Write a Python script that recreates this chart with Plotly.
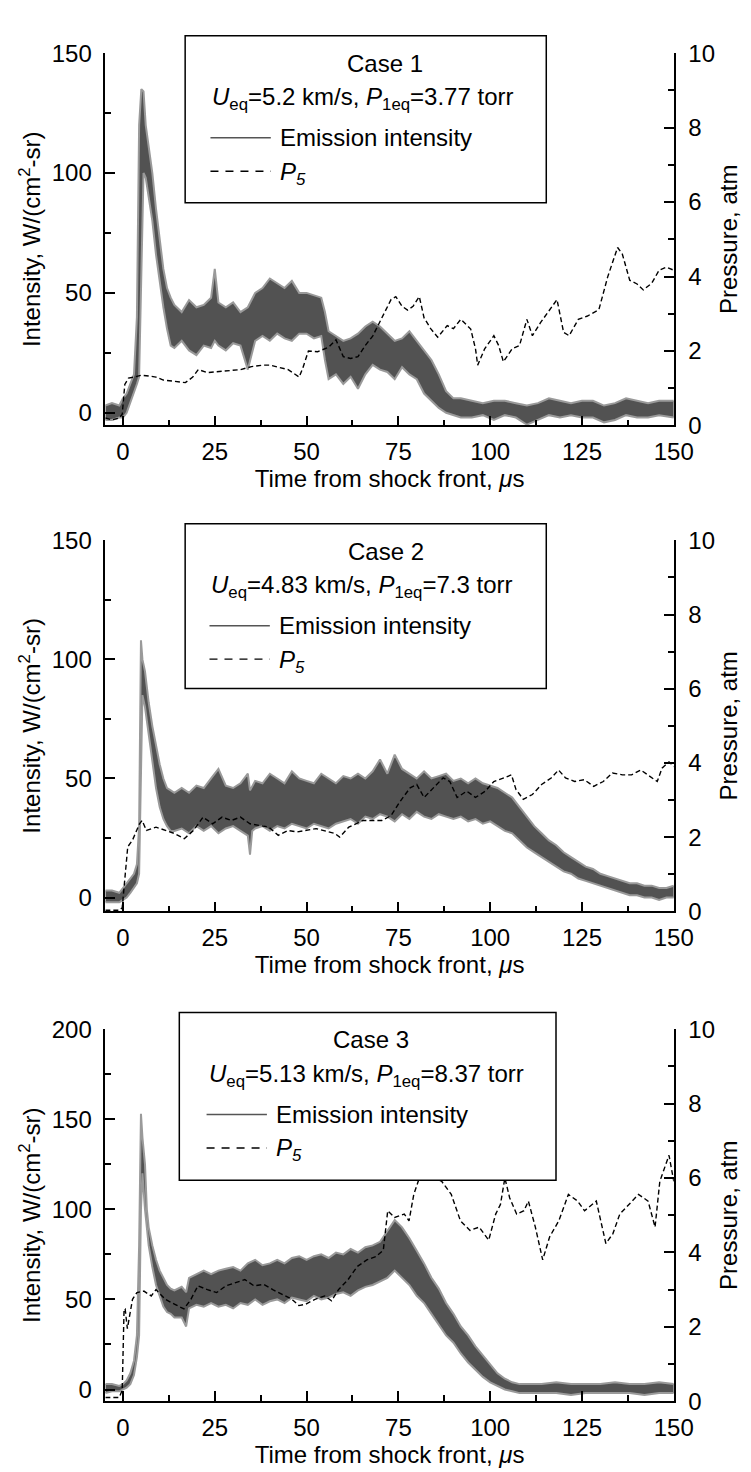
import plotly.graph_objects as go

# ---------------- data ----------------
# Case 1 emission intensity band (lower / upper envelope of the noisy trace)
t1 = [-4.8, -3, -1, 0, 1, 2, 3, 3.8, 4.4, 5.0, 5.6, 6.2, 7, 8, 9, 10, 11, 12, 13, 14, 16, 18, 20, 22, 24, 25,
      26, 28, 30, 32, 34, 36, 38, 40, 42, 44, 46, 48, 50, 52, 54, 55, 56, 58, 60, 62, 64, 66, 68, 70, 72, 74,
      76, 78, 80, 82, 84, 86, 88, 90, 92, 95, 98, 101, 104, 107, 110, 113, 116, 119, 122, 125, 128, 131, 134,
      137, 140, 143, 146, 150]
i1_lo = [-3, -3, -2, -2, 0, 4, 8, 12, 15, 60, 100, 98, 90, 80, 66, 54, 44, 35, 28, 27, 30, 26, 24, 28, 27, 30,
         28, 26, 29, 28, 18, 30, 32, 30, 33, 31, 30, 33, 33, 31, 32, 22, 14, 16, 12, 15, 10, 16, 20, 18, 17, 14,
         19, 16, 14, 8, 5, 2, 0, -1, -2, -2, -1, -3, -1, -2, -5, -3, -1, -2, -1, -2, -2, -4, -3, -1, -2, -2, -1, -2]
i1_hi = [3, 4, 3, 6, 8, 12, 16, 40, 120, 135, 134, 120, 112, 100, 85, 72, 60, 52, 48, 45, 42, 47, 44, 45, 48, 60,
         46, 44, 46, 42, 44, 50, 52, 56, 54, 52, 55, 50, 50, 49, 48, 42, 34, 32, 30, 31, 33, 36, 38, 36, 33, 30,
         31, 34, 30, 26, 22, 16, 9, 6, 6, 5, 4, 5, 5, 4, 3, 4, 6, 5, 4, 5, 5, 3, 4, 6, 5, 4, 5, 5]
# Case 1 pressure P5 (atm)
tp1 = [-4.8, -3, -1, -0.2, 0.5, 1.5, 3, 5, 7, 9, 11, 13, 15, 17, 19, 20.5, 23, 26, 29, 32, 35, 38, 40, 43, 45, 48,
       49, 50.5, 53, 56, 58, 60, 62, 64, 66, 68, 70.5, 73, 74.3, 76, 77.5, 79, 80.7, 82, 83.8, 85.7, 88.3, 90, 92,
       94.7, 96, 96.6, 98.5, 101, 102.3, 103.6, 106, 108, 110, 111.5, 113.7, 116.3, 118.2, 120, 121.5, 124, 126.5,
       129.6, 132, 134.7, 136, 138, 140, 141.7, 144, 146, 148, 150]
p1 = [0.2, 0.15, 0.2, 0.3, 1.1, 1.27, 1.3, 1.35, 1.33, 1.3, 1.22, 1.2, 1.18, 1.15, 1.3, 1.5, 1.42, 1.45, 1.48, 1.5,
      1.58, 1.62, 1.62, 1.55, 1.5, 1.3, 1.55, 2.0, 1.98, 2.1, 2.3, 1.85, 1.8, 1.85, 2.15, 2.4, 2.9, 3.38, 3.46, 3.2,
      3.1, 3.2, 3.46, 2.89, 2.6, 2.37, 2.68, 2.6, 2.85, 2.59, 2.06, 1.62, 2.06, 2.41, 2.15, 1.71, 2.06, 2.15, 2.85,
      2.41, 2.76, 3.11, 3.38, 2.5, 2.41, 2.85, 2.94, 3.11, 3.99, 4.78, 4.6, 3.9, 3.8, 3.64, 3.82, 4.17, 4.25, 4.17]

# Case 2
t2 = [-4.8, -3, -1, 0, 1, 2, 3, 3.8, 4.4, 4.9, 5.3, 6, 7, 8, 9, 10, 11, 12, 13, 14, 16, 18, 20, 22, 24, 26, 28, 30,
      32, 34, 34.6, 35.2, 36, 38, 40, 42, 44, 46, 48, 50, 52, 54, 56, 58, 60, 62, 64, 66, 68, 70, 72, 74, 76, 78,
      80, 82, 84, 86, 88, 90, 92, 94, 96, 98, 100, 102, 104, 106, 108, 110, 112, 114, 116, 118, 120, 122, 124,
      126, 128, 130, 132, 134, 136, 138, 140, 142, 144, 146, 148, 150]
i2_lo = [-2, -2, -2, -1, 0, 2, 4, 6, 10, 60, 85, 80, 68, 56, 46, 38, 33, 30, 28, 28, 29, 27, 30, 28, 30, 27, 29, 30,
         28, 26, 18, 28, 29, 30, 28, 30, 29, 31, 30, 29, 31, 30, 29, 31, 32, 33, 31, 34, 33, 35, 34, 32, 35, 33,
         36, 34, 33, 35, 34, 33, 34, 32, 33, 31, 32, 30, 28, 27, 24, 21, 19, 17, 15, 13, 11, 10, 8, 7, 6, 5, 4, 3,
         2, 1, 1, 0, 0, -1, 0, 0]
i2_hi = [3, 3, 2, 4, 6, 8, 10, 14, 30, 108, 100, 95, 82, 72, 64, 56, 50, 46, 45, 44, 46, 44, 47, 46, 50, 54, 47, 46,
         48, 52, 45, 47, 49, 48, 52, 50, 48, 53, 50, 49, 48, 52, 50, 48, 51, 50, 52, 50, 53, 58, 52, 60, 54, 52,
         50, 53, 50, 51, 52, 49, 50, 48, 50, 48, 47, 46, 44, 42, 38, 34, 30, 27, 24, 22, 19, 17, 15, 13, 12, 10, 9,
         8, 7, 6, 6, 5, 5, 4, 4, 5]
tp2 = [-4.8, -3, -1, -0.2, 0.3, 1.3, 2.6, 4.5, 5.2, 6.4, 9, 11.5, 14, 16.7, 19.2, 21.8, 24.4, 27, 29.5, 32, 34.6,
       39.7, 42.3, 44.9, 47.4, 52.6, 57.7, 59, 61.5, 65.4, 70.5, 73, 75.6, 78.2, 80, 82, 84.6, 87.2, 89, 91, 93.6,
       96, 98.7, 101, 103.8, 105.8, 107, 109, 111.5, 114, 116.7, 118.6, 120.5, 123, 125.6, 128.2, 130.8, 133.3,
       136, 138.5, 141, 143.6, 145.5, 146.8, 148.7, 150]
p2 = [0.03, 0.03, 0.03, 0.1, 0.7, 1.74, 1.92, 2.36, 2.45, 2.18, 2.27, 2.18, 2.1, 1.96, 2.18, 2.54, 2.36, 2.54, 2.45,
      2.54, 2.36, 2.27, 2.05, 2.18, 2.14, 2.23, 2.1, 2.0, 2.27, 2.45, 2.45, 2.58, 2.98, 3.33, 3.42, 3.07, 3.33, 3.6,
      3.5, 3.07, 3.24, 3.07, 3.24, 3.5, 3.6, 3.68, 3.29, 3.02, 3.15, 3.42, 3.6, 3.81, 3.6, 3.5, 3.55, 3.37, 3.5,
      3.73, 3.68, 3.68, 3.81, 3.64, 3.5, 3.86, 4.03, 3.9]

# Case 3
t3 = [-4.8, -3, -1, 0, 1, 2, 3, 3.8, 4.4, 4.9, 5.3, 6, 6.5, 7, 8, 9, 10, 11, 12, 13, 14, 16, 17.2, 18, 20, 22, 24,
      26, 28, 30, 32, 34, 36, 38, 40, 42, 44, 46, 48, 50, 52, 54, 56, 58, 60, 62, 64, 66, 68, 70, 72, 74, 76, 78,
      80, 82, 84, 86, 88, 90, 92, 94, 96, 98, 100, 102, 104, 106, 108, 110, 114, 118, 122, 126, 130, 134, 138,
      142, 146, 150]
i3_lo = [-2, -1, -1, 0, 1, 3, 8, 18, 30, 100, 120, 100, 88, 80, 68, 58, 52, 46, 43, 42, 40, 40, 35, 45, 47, 46, 48,
         46, 47, 45, 48, 47, 50, 47, 49, 50, 48, 51, 50, 49, 52, 50, 51, 53, 54, 52, 55, 57, 58, 60, 62, 66, 62, 58,
         52, 48, 42, 36, 30, 26, 20, 15, 11, 7, 4, 2, 0, -1, -2, -2, -2, -2, -3, -2, -2, -2, -2, -3, -2, -2]
i3_hi = [3, 3, 2, 3, 5, 9, 16, 30, 80, 153, 140, 125, 100, 90, 80, 72, 66, 62, 58, 56, 55, 57, 54, 62, 64, 66, 64,
         66, 67, 68, 66, 70, 72, 69, 70, 72, 70, 73, 74, 72, 74, 75, 73, 76, 75, 78, 76, 79, 80, 82, 88, 94, 90, 84,
         77, 70, 62, 56, 48, 42, 35, 30, 24, 19, 14, 9, 6, 4, 3, 3, 3, 4, 3, 3, 3, 4, 3, 3, 4, 3]
tp3 = [-4.8, -3, -1, -0.2, 0.3, 0.6, 1.2, 2.6, 3.8, 5.7, 7.7, 9, 11.5, 14, 16.6, 18.5, 20.4, 23, 25.5, 28, 30.6,
       33.2, 35.7, 38.3, 40.8, 43.4, 46, 47.9, 49.8, 52.3, 54.9, 56.8, 58.7, 61.3, 63.8, 66.4, 68.9, 70.9, 72.1,
       74, 76.6, 77.9, 79.2, 80.4, 83, 84.9, 86.8, 89.4, 91.9, 94.5, 97, 99.6, 101.5, 102.8, 104, 105.3, 107.2,
       109.2, 110.4, 112.3, 114.3, 116.2, 118.7, 121.3, 123.8, 125.7, 128.9, 131.5, 133.4, 135.3, 137.9, 140.4,
       143, 144.9, 146.2, 147.4, 148.7, 150]
p3 = [0.1, 0.1, 0.1, 0.3, 2.48, 2.48, 1.95, 2.74, 2.92, 2.96, 2.83, 3.0, 2.74, 2.61, 2.48, 2.74, 3.1, 3.0, 2.92, 3.1,
      3.18, 3.27, 3.1, 3.14, 3.0, 2.88, 2.74, 2.57, 2.61, 2.74, 2.83, 2.7, 3.0, 3.27, 3.62, 3.8, 3.89, 4.06, 5.12,
      4.94, 5.03, 4.85, 5.56, 5.91, 6.44, 6.0, 5.91, 5.56, 4.85, 4.59, 4.68, 4.33, 5.03, 5.29, 6.0, 5.47, 5.03,
      5.12, 5.38, 4.68, 3.8, 4.42, 4.85, 5.56, 5.38, 5.12, 5.38, 4.24, 4.5, 5.03, 5.29, 5.56, 5.38, 4.68, 5.91,
      6.26, 6.61, 5.91]

cases = ["Case 1", "Case 2", "Case 3"]
u_eq = ["5.2", "4.83", "5.13"]
p1_eq = ["3.77", "7.3", "8.37"]
x_ticks = [0, 25, 50, 75, 100, 125, 150]
left_ticks = [[0, 50, 100, 150], [0, 50, 100, 150], [0, 50, 100, 150, 200]]
left_ranges = [[-5.3, 150], [-5.8, 150], [-6.5, 200]]
right_ticks = [0, 2, 4, 6, 8, 10]

# ---------------- layout geometry (pixels) ----------------
W, H = 751, 1472
FONT = "Liberation Sans, Arial, sans-serif"
FS = 24
plot_left, plot_right = 100, 684
panels_px = [(31.7, 411), (528, 906), (1026, 1405)]  # (top, bottom)
legend_px = [  # box x0,x1,y0,y1, case center x, text left x
    (182, 553, 14, 184, 387, 208),
    (182, 553, 511, 679, 388, 207),
    (176, 563, 1009, 1180, 373, 204),
]


def px(x):
    return x / W


def py(y):
    return 1 - y / H


fig = go.Figure()

series = [(t1, i1_lo, i1_hi, tp1, p1), (t2, i2_lo, i2_hi, tp2, p2), (t3, i3_lo, i3_hi, tp3, p3)]
for k, (t, lo, hi, tp, pp) in enumerate(series):
    xa = "x" if k == 0 else f"x{k + 1}"
    ya = "y" if k == 0 else f"y{k + 1}"
    yr = f"y{k + 4}"
    fig.add_trace(go.Scatter(x=t, y=lo, xaxis=xa, yaxis=ya, mode="lines",
                             line=dict(color="#9a9a9a", width=2), showlegend=False,
                             name="Emission intensity"))
    fig.add_trace(go.Scatter(x=t, y=hi, xaxis=xa, yaxis=ya, mode="lines", fill="tonexty",
                             fillcolor="#525252", line=dict(color="#9a9a9a", width=2),
                             showlegend=False, name="Emission intensity"))
    fig.add_trace(go.Scatter(x=tp, y=pp, xaxis=xa, yaxis=yr, mode="lines",
                             line=dict(color="black", width=1.4, dash="5px,3px"),
                             showlegend=False, name="P5"))

axis_font = dict(family=FONT, size=FS, color="black")
layout = dict(width=W, height=H, autosize=False, margin=dict(l=0, r=0, t=0, b=0),
              paper_bgcolor="white", plot_bgcolor="white", showlegend=False,
              font=dict(family=FONT, size=FS, color="black"))

shapes = []
annotations = []
for k in range(3):
    top, bot = panels_px[k]
    dom_y = [py(bot), py(top)]
    sx = "" if k == 0 else str(k + 1)
    layout[f"xaxis{sx}"] = dict(
        domain=[px(plot_left), px(plot_right)], range=[-4.8, 150], anchor=f"y{sx}",
        tickvals=x_ticks, ticks="inside", ticklen=10, tickwidth=1.5, tickcolor="black",
        minor=dict(dtick=12.5, tick0=0, ticks="inside", ticklen=6, tickwidth=1.5, tickcolor="black"),
        showline=True, linecolor="black", linewidth=1.5, showgrid=False, zeroline=False,
        tickfont=axis_font, ticklabelstandoff=4,
        title=dict(text="Time from shock front, <i>μ</i>s", font=axis_font, standoff=6),
    )
    layout[f"yaxis{sx}"] = dict(
        domain=dom_y, range=left_ranges[k], anchor=f"x{sx}",
        tickvals=left_ticks[k], ticks="inside", ticklen=10, tickwidth=1.5, tickcolor="black",
        minor=dict(dtick=25, tick0=0, ticks="inside", ticklen=6, tickwidth=1.5, tickcolor="black"),
        showline=True, linecolor="black", linewidth=1.5, showgrid=False, zeroline=False,
        tickfont=axis_font, ticklabelstandoff=7,
        title=dict(text="Intensity, W/(cm<sup>2</sup>-sr)", font=axis_font, standoff=4),
    )
    layout[f"yaxis{k + 4}"] = dict(
        domain=dom_y, range=[0, 10], anchor=f"x{sx}", overlaying=f"y{sx}", side="right",
        tickvals=right_ticks, ticks="inside", ticklen=10, tickwidth=1.5, tickcolor="black",
        minor=dict(dtick=1, tick0=0, ticks="inside", ticklen=6, tickwidth=1.5, tickcolor="black"),
        showline=True, linecolor="black", linewidth=1.5, showgrid=False, zeroline=False,
        tickfont=axis_font, ticklabelstandoff=8,
        title=dict(text="Pressure, atm", font=axis_font, standoff=6),
    )

    bx0, bx1, by0, by1, cx, tx = legend_px[k]
    shapes.append(dict(type="rect", xref="paper", yref="paper", x0=px(bx0), x1=px(bx1),
                       y0=py(by1), y1=py(by0), fillcolor="white",
                       line=dict(color="black", width=1.5), layer="above"))
    # legend samples
    ly1 = by0 + 104
    ly2 = by0 + 138
    shapes.append(dict(type="line", xref="paper", yref="paper", x0=px(tx), x1=px(tx + 62),
                       y0=py(ly1), y1=py(ly1), line=dict(color="#555555", width=1.5), layer="above"))
    shapes.append(dict(type="line", xref="paper", yref="paper", x0=px(tx), x1=px(tx + 62),
                       y0=py(ly2), y1=py(ly2), line=dict(color="black", width=1.4, dash="8px,7px"),
                       layer="above"))
    ann_font = dict(family=FONT, size=FS, color="black")
    annotations.append(dict(xref="paper", yref="paper", x=px(cx), y=py(by0 + 28), text=cases[k],
                            showarrow=False, xanchor="center", yanchor="middle", font=ann_font))
    annotations.append(dict(xref="paper", yref="paper", x=px(tx), y=py(by0 + 64),
                            text=f"<i>U</i><sub>eq</sub>={u_eq[k]} km/s, <i>P</i><sub>1eq</sub>={p1_eq[k]} torr",
                            showarrow=False, xanchor="left", yanchor="middle", font=ann_font))
    annotations.append(dict(xref="paper", yref="paper", x=px(tx + 69), y=py(ly1),
                            text="Emission intensity", showarrow=False, xanchor="left",
                            yanchor="middle", font=ann_font))
    annotations.append(dict(xref="paper", yref="paper", x=px(tx + 69), y=py(ly2 + 2),
                            text="<i>P<sub>5</sub></i>", showarrow=False, xanchor="left",
                            yanchor="middle", font=ann_font))

layout["shapes"] = shapes
layout["annotations"] = annotations
fig.update_layout(**layout)
fig.write_html("out.html")
